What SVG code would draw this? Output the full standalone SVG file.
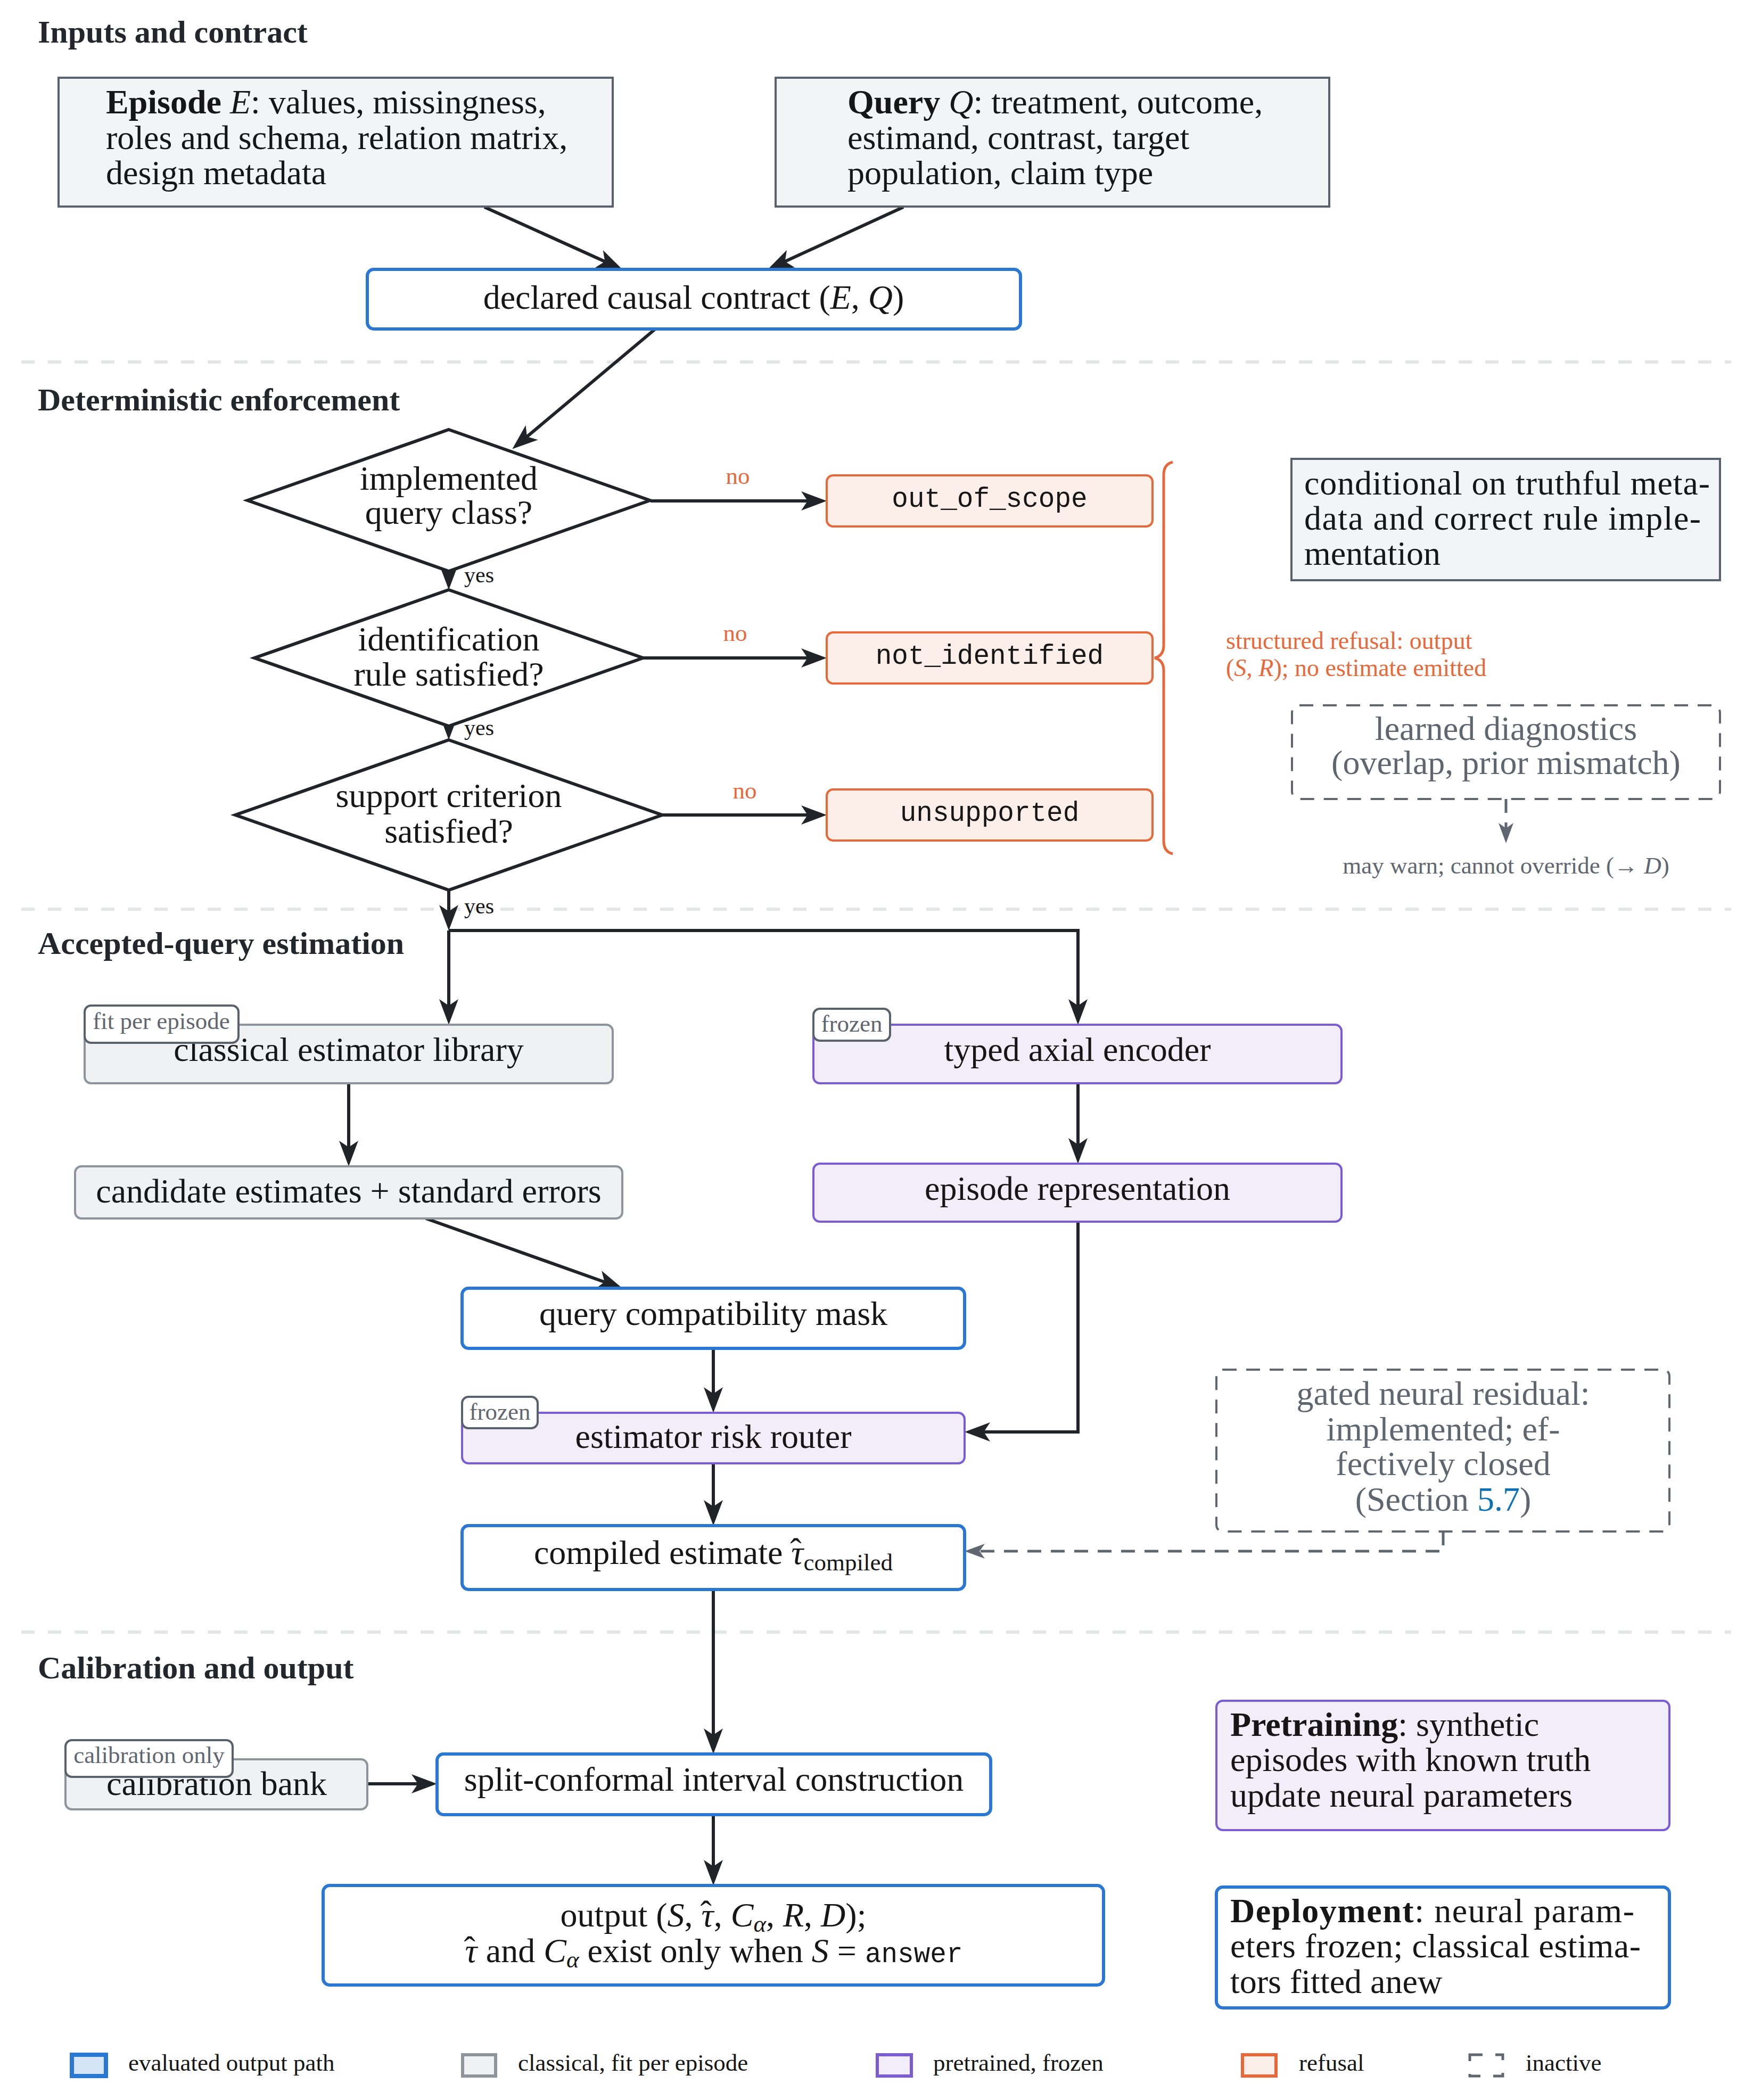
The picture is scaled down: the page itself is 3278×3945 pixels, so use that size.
<svg xmlns="http://www.w3.org/2000/svg" width="3278" height="3945" viewBox="0 0 3278 3945">
<style>
.t{font-family:"Liberation Serif","Times New Roman",serif;font-size:64px;fill:#161616}
.title{font-family:"Liberation Serif","Times New Roman",serif;font-weight:bold;font-size:60px;fill:#23272b}
.sm{font-size:45px}
.note{font-size:46px}
.yes{font-size:42px}
.sub{font-size:45px}
.mono{font-family:"Liberation Mono","Courier New",monospace;font-size:51px;fill:#161616}
.i{font-style:italic}
.b{font-weight:bold}
.c{text-anchor:middle}
.gray{fill:#5f6670}
.orange{fill:#e8683a}
.link{fill:#0b72b5}
.conn{fill:none;stroke:#202428;stroke-width:6}
.dconn{fill:none;stroke:#5f6670;stroke-width:5;stroke-dasharray:26 18}
.blue{fill:#fff;stroke:#2b78d4;stroke-width:6}
.purple{fill:#f1eefa;stroke:#7b5cd6;stroke-width:4}
.classic{fill:#f0f1f3;stroke:#8d949c;stroke-width:4}
.input{fill:#f3f4f6;stroke:#59626c;stroke-width:4}
.refusal{fill:#fcefe9;stroke:#e8683a;stroke-width:4}
.tag{fill:#fff;stroke:#59626c;stroke-width:4}
.inactive{fill:none;stroke:#5f6670;stroke-width:4;stroke-dasharray:26 18}
.diamond{fill:#fff;stroke:#202428;stroke-width:6;stroke-linejoin:miter}
.sep{stroke:#e4e5e7;stroke-width:6;stroke-dasharray:25 25}
</style>
<defs>
<marker id="ah" viewBox="-40 -20 52 40" refX="0" refY="0" markerWidth="52" markerHeight="40" markerUnits="userSpaceOnUse" orient="auto">
<path d="M10,0 L-38,-18 L-26,0 L-38,18 Z" fill="#202428"/>
</marker>
<marker id="gah" viewBox="-34 -16 44 32" refX="0" refY="0" markerWidth="44" markerHeight="32" markerUnits="userSpaceOnUse" orient="auto">
<path d="M8,0 L-30,-14 L-20,0 L-30,14 Z" fill="#5f6670"/>
</marker>
</defs>
<rect width="3278" height="3945" fill="#ffffff"/>

<g id="separators">
<line class="sep" x1="40" y1="680" x2="3252" y2="680"/>
<line class="sep" x1="40" y1="1708" x2="3252" y2="1708"/>
<line class="sep" x1="40" y1="3066" x2="3252" y2="3066"/>
</g>

<g id="section-titles">
<text class="title" x="71" y="80">Inputs and contract</text>
<text class="title" x="71" y="771">Deterministic enforcement</text>
<text class="title" x="71" y="1792">Accepted-query estimation</text>
<text class="title" x="71" y="3153">Calibration and output</text>
</g>

<g id="connectors">
<path class="conn" d="M910,389 L1160,502" marker-end="url(#ah)"/>
<path class="conn" d="M1697,389 L1451,502" marker-end="url(#ah)"/>
<path class="conn" d="M1231,618 L970,837" marker-end="url(#ah)"/>
<path class="conn" d="M1222,941 H1543" marker-end="url(#ah)"/>
<path class="conn" d="M843,1073 V1098" marker-end="url(#ah)"/>
<path class="conn" d="M1208,1236 H1543" marker-end="url(#ah)"/>
<path class="conn" d="M843,1364 V1380" marker-end="url(#ah)"/>
<path class="conn" d="M1244,1531 H1543" marker-end="url(#ah)"/>
<path class="conn" d="M843,1672 V1738" marker-end="url(#ah)"/>
<path class="conn" d="M843,1748 V1915" marker-end="url(#ah)"/>
<path class="conn" d="M843,1748 H2025 V1915" marker-end="url(#ah)"/>
<path class="conn" d="M655,2035 V2181" marker-end="url(#ah)"/>
<path class="conn" d="M800,2289 L1160,2417" marker-end="url(#ah)"/>
<path class="conn" d="M2025,2035 V2176" marker-end="url(#ah)"/>
<path class="conn" d="M2025,2295 V2690 H1822" marker-end="url(#ah)"/>
<path class="conn" d="M1340,2533 V2644" marker-end="url(#ah)"/>
<path class="conn" d="M1340,2749 V2856" marker-end="url(#ah)"/>
<path class="conn" d="M1340,2986 V3285" marker-end="url(#ah)"/>
<path class="conn" d="M690,3351 H811" marker-end="url(#ah)"/>
<path class="conn" d="M1340,3409 V3532" marker-end="url(#ah)"/>
<path class="dconn" d="M2711,2877 V2914 H1820" marker-end="url(#gah)"/>
<path class="dconn" d="M2829,1501 V1576" marker-end="url(#gah)"/>
<path d="M2203,868 Q2186,872 2186,892 V1212 Q2186,1232 2169,1236 Q2186,1240 2186,1260 V1580 Q2186,1600 2203,1604" fill="none" stroke="#e8683a" stroke-width="5"/>
<text class="t sm orange c" x="1386" y="909">no</text>
<text class="t sm orange c" x="1381" y="1204">no</text>
<text class="t sm orange c" x="1399" y="1500">no</text>
<text class="t yes" x="872" y="1094">yes</text>
<text class="t yes" x="872" y="1381">yes</text>
<text class="t yes" x="872" y="1716">yes</text>
</g>

<g id="episode">
<rect class="input" x="110" y="146" width="1041" height="242"/>
<text class="t" x="199" y="213"><tspan class="b">Episode</tspan> <tspan class="i">E</tspan>: values, missingness,</text>
<text class="t" x="199" y="280">roles and schema, relation matrix,</text>
<text class="t" x="199" y="346">design metadata</text>
</g>

<g id="query">
<rect class="input" x="1457" y="146" width="1040" height="242"/>
<text class="t" x="1592" y="213"><tspan class="b">Query</tspan> <tspan class="i">Q</tspan>: treatment, outcome,</text>
<text class="t" x="1592" y="280">estimand, contrast, target</text>
<text class="t" x="1592" y="346">population, claim type</text>
</g>

<g id="contract">
<rect class="blue" x="690" y="506" width="1227" height="112" rx="12"/>
<text class="t c" x="1303" y="580">declared causal contract (<tspan class="i">E</tspan>, <tspan class="i">Q</tspan>)</text>
</g>

<g id="d-query-class">
<polygon class="diamond" points="843,807 1221,940 843,1073 465,940"/>
<text class="t c" x="843" y="920">implemented</text>
<text class="t c" x="843" y="984">query class?</text>
</g>

<g id="d-identification">
<polygon class="diamond" points="843,1108 1208,1236 843,1364 478,1236"/>
<text class="t c" x="843" y="1222">identification</text>
<text class="t c" x="843" y="1288">rule satisfied?</text>
</g>

<g id="d-support">
<polygon class="diamond" points="843,1390 1244,1531 843,1672 442,1531"/>
<text class="t c" x="843" y="1516">support criterion</text>
<text class="t c" x="843" y="1583">satisfied?</text>
</g>

<g id="out-of-scope">
<rect class="refusal" x="1553" y="893" width="612" height="96" rx="12"/>
<text class="mono c" x="1859" y="952">out_of_scope</text>
</g>

<g id="not-identified">
<rect class="refusal" x="1553" y="1188" width="612" height="96" rx="12"/>
<text class="mono c" x="1859" y="1247">not_identified</text>
</g>

<g id="unsupported">
<rect class="refusal" x="1553" y="1483" width="612" height="96" rx="12"/>
<text class="mono c" x="1859" y="1542">unsupported</text>
</g>

<g id="refusal-note">
<text class="t note orange" x="2303" y="1219">structured refusal:  output</text>
<text class="t note orange" x="2303" y="1270">(<tspan class="i">S</tspan>, <tspan class="i">R</tspan>); no estimate emitted</text>
</g>

<g id="conditional">
<rect class="input" x="2426" y="862" width="805" height="228"/>
<text class="t" x="2450" y="929" textLength="762" lengthAdjust="spacing">conditional on truthful meta-</text>
<text class="t" x="2450" y="995" textLength="745" lengthAdjust="spacing">data and correct rule imple-</text>
<text class="t" x="2450" y="1061">mentation</text>
</g>

<g id="learned-diagnostics">
<rect class="inactive" x="2427" y="1325" width="804" height="176" rx="14"/>
<text class="t gray c" x="2829" y="1390">learned diagnostics</text>
<text class="t gray c" x="2829" y="1454">(overlap, prior mismatch)</text>
</g>

<g id="may-warn">
<text class="t sm gray c" x="2829" y="1641">may warn; cannot override (→ <tspan class="i">D</tspan>)</text>
</g>

<g id="classical-library">
<rect class="classic" x="159" y="1925" width="992" height="110" rx="12"/>
<text class="t c" x="655" y="1993">classical estimator library</text>
<rect class="tag" x="159" y="1889" width="289" height="70" rx="12"/>
<text class="t sm gray c" x="303" y="1933">fit per episode</text>
</g>

<g id="candidates">
<rect class="classic" x="141" y="2191" width="1028" height="98" rx="12"/>
<text class="t c" x="655" y="2259">candidate estimates + standard errors</text>
</g>

<g id="encoder">
<rect class="purple" x="1528" y="1925" width="992" height="110" rx="12"/>
<text class="t c" x="2024" y="1993">typed axial encoder</text>
<rect class="tag" x="1528" y="1895" width="144" height="60" rx="12"/>
<text class="t sm gray c" x="1600" y="1938">frozen</text>
</g>

<g id="representation">
<rect class="purple" x="1528" y="2186" width="992" height="109" rx="12"/>
<text class="t c" x="2024" y="2254">episode representation</text>
</g>

<g id="mask">
<rect class="blue" x="868" y="2420" width="944" height="113" rx="12"/>
<text class="t c" x="1340" y="2489">query compatibility mask</text>
</g>

<g id="router">
<rect class="purple" x="868" y="2654" width="944" height="95" rx="12"/>
<text class="t c" x="1340" y="2720">estimator risk router</text>
<rect class="tag" x="868" y="2624" width="142" height="59" rx="12"/>
<text class="t sm gray c" x="939" y="2667">frozen</text>
</g>

<g id="compiled">
<rect class="blue" x="868" y="2866" width="944" height="120" rx="12"/>
<text class="t c" x="1340" y="2938">compiled estimate <tspan class="i">τ</tspan><tspan dx="-25" dy="-4">ˆ</tspan><tspan class="sub" dx="4" dy="16">compiled</tspan></text>
</g>

<g id="gated-residual">
<rect class="inactive" x="2285" y="2573" width="851" height="304" rx="12"/>
<text class="t gray c" x="2711" y="2639">gated neural residual:</text>
<text class="t gray c" x="2711" y="2706">implemented; ef-</text>
<text class="t gray c" x="2711" y="2771">fectively closed</text>
<text class="t gray c" x="2711" y="2838">(Section <tspan class="link">5.7</tspan>)</text>
</g>

<g id="calibration-bank">
<rect class="classic" x="123" y="3305" width="567" height="94" rx="12"/>
<text class="t c" x="407" y="3372">calibration bank</text>
<rect class="tag" x="123" y="3269" width="314" height="69" rx="12"/>
<text class="t sm gray c" x="280" y="3312">calibration only</text>
</g>

<g id="split-conformal">
<rect class="blue" x="821" y="3295" width="1040" height="114" rx="12"/>
<text class="t c" x="1341" y="3364">split-conformal interval construction</text>
</g>

<g id="output">
<rect class="blue" x="607" y="3542" width="1466" height="187" rx="12"/>
<text class="t c" x="1340" y="3619">output (<tspan class="i">S</tspan>, <tspan class="i">τ</tspan><tspan dx="-25" dy="-4">ˆ</tspan><tspan dx="4" dy="4">, </tspan><tspan class="i">C</tspan><tspan class="i sub" dy="10">α</tspan><tspan dy="-10">, </tspan><tspan class="i">R</tspan>, <tspan class="i">D</tspan>);</text>
<text class="t c" x="1340" y="3686"><tspan class="i">τ</tspan><tspan dx="-25" dy="-4">ˆ</tspan><tspan dx="4" dy="4"> and </tspan><tspan class="i">C</tspan><tspan class="i sub" dy="10">α</tspan><tspan dy="-10"> exist only when </tspan><tspan class="i">S</tspan> = <tspan class="mono">answer</tspan></text>
</g>

<g id="pretraining">
<rect class="purple" x="2285" y="3195" width="851" height="243" rx="12"/>
<text class="t" x="2311" y="3261"><tspan class="b">Pretraining</tspan>:  synthetic</text>
<text class="t" x="2311" y="3327">episodes with known truth</text>
<text class="t" x="2311" y="3394">update neural parameters</text>
</g>

<g id="deployment">
<rect class="blue" x="2285" y="3545" width="851" height="227" rx="12"/>
<text class="t" x="2311" y="3611" textLength="759" lengthAdjust="spacing"><tspan class="b">Deployment</tspan>:  neural param-</text>
<text class="t" x="2311" y="3677" textLength="771" lengthAdjust="spacing">eters frozen; classical estima-</text>
<text class="t" x="2311" y="3744">tors fitted anew</text>
</g>

<g id="legend">
<rect x="135" y="3860" width="64" height="40" fill="#d5e5f8" stroke="#2b78d4" stroke-width="8"/>
<text class="t sm" x="241" y="3890">evaluated output path</text>
<rect x="869" y="3860" width="62" height="40" fill="#f0f1f3" stroke="#8d949c" stroke-width="6"/>
<text class="t sm" x="973" y="3890">classical, fit per episode</text>
<rect x="1648" y="3860" width="64" height="40" fill="#f1eefa" stroke="#7b5cd6" stroke-width="6"/>
<text class="t sm" x="1753" y="3890">pretrained, frozen</text>
<rect x="2334" y="3860" width="63" height="40" fill="#fcefe9" stroke="#e8683a" stroke-width="6"/>
<text class="t sm" x="2440" y="3890">refusal</text>
<rect x="2761" y="3860" width="62" height="40" fill="none" stroke="#5f6670" stroke-width="5" stroke-dasharray="24 24"/>
<text class="t sm" x="2866" y="3890">inactive</text>
</g>
</svg>
